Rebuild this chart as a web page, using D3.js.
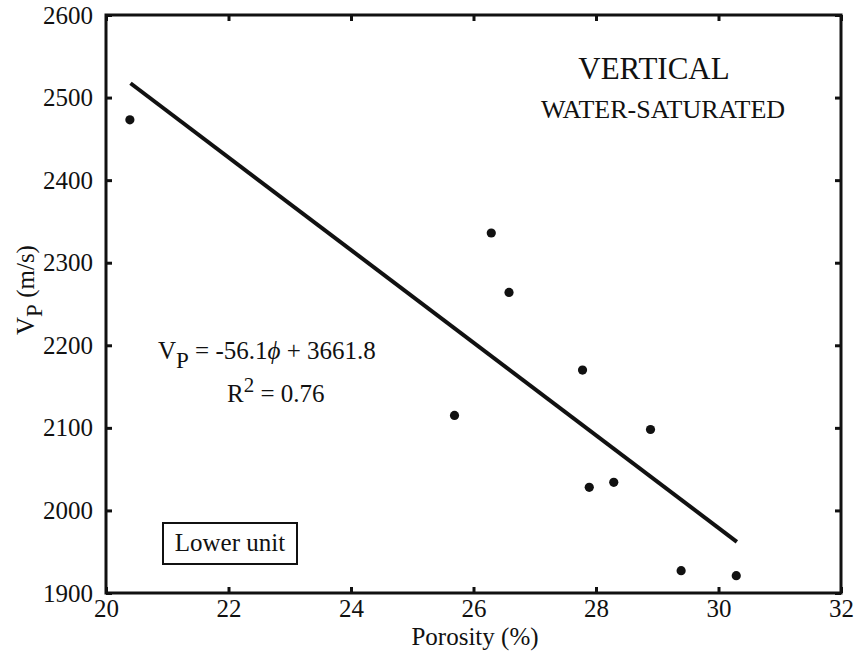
<!DOCTYPE html>
<html>
<head>
<meta charset="utf-8">
<script src="https://cdn.jsdelivr.net/npm/d3@7"></script>
<style>
  body { margin: 0; background: #fff; }
</style>
</head>
<body>
<svg id="chart" width="859" height="656"></svg>
<script>
// measured points, lower unit, vertical, water-saturated
let porosity = [20.39, 25.69, 26.29, 26.58, 27.78, 27.89, 28.29, 28.89, 29.39, 30.29];
let vp = [2473, 2115, 2336, 2264, 2170, 2028, 2034, 2098, 1927, 1921];

// regression  Vp = -56.1 phi + 3661.8
let fitSlope = -56.1;
let fitIntercept = 3661.8;
let fitRange = [20.4, 30.3];

let xTicks = [20, 22, 24, 26, 28, 30, 32];
let yTicks = [1900, 2000, 2100, 2200, 2300, 2400, 2500, 2600];

var box = { left: 106, right: 841, top: 15, bottom: 593 }
var serif = 'Liberation Serif, Times New Roman, Times, serif';

let svg = d3.select('#chart');

let x = d3.scaleLinear().domain([20, 32]).range([box.left, box.right]);
let y = d3.scaleLinear().domain([1900, 2600]).range([box.bottom, box.top]);

function label(px, py, size){
    return svg.append('text')
        .attr('x', px)
        .attr('y', py)
        .attr('font-family', serif)
        .attr('font-size', size)
        .attr('fill', '#111');
}

// ticks on all four sides, pointing in
function addAxis(axis, tx, ty){
    let g = svg.append('g')
        .attr('transform', 'translate(' + tx + ',' + ty + ')')
        .call(axis);
    g.attr('font-family', serif).attr('font-size', 25);
    g.select('.domain').remove();
    g.selectAll('.tick line').attr('stroke', '#111').attr('stroke-width', 3);
    g.selectAll('.tick text').attr('fill', '#111');
    return g;
}

addAxis(d3.axisBottom(x).tickValues(xTicks).tickSizeInner(-6).tickPadding(6).tickFormat(d3.format('d')), 0, box.bottom);
addAxis(d3.axisTop(x).tickValues(xTicks).tickSizeInner(-6).tickFormat(''), 0, box.top);
addAxis(d3.axisLeft(y).tickValues(yTicks).tickSizeInner(-6).tickPadding(13).tickFormat(d3.format('d')), box.left, 0);
addAxis(d3.axisRight(y).tickValues(yTicks).tickSizeInner(-6).tickFormat(''), box.right, 0);

svg.append('rect')
    .attr('x', box.left)
    .attr('y', box.top)
    .attr('width', box.right - box.left)
    .attr('height', box.bottom - box.top)
    .attr('fill', 'none')
    .attr('stroke', '#111')
    .attr('stroke-width', 3);

// fit line
let line = d3.line()
    .x(function(d){ return x(d) })
    .y(function(d){ return y(fitSlope * d + fitIntercept) });

svg.append('path')
    .datum(fitRange)
    .attr('d', line)
    .attr('fill', 'none')
    .attr('stroke', '#111')
    .attr('stroke-width', 4);

svg.append('g')
    .selectAll('circle')
    .data(d3.range(porosity.length))
    .join('circle')
    .attr('cx', function(i){ return x(porosity[i]) })
    .attr('cy', function(i){ return y(vp[i]) })
    .attr('r', 4.6)
    .attr('fill', '#111');

// axis titles
label(475, 645, 25).attr('text-anchor', 'middle').text('Porosity (%)');

let yt = label(0, 0, 25)
    .attr('transform', 'translate(34,290) rotate(-90)')
    .attr('text-anchor', 'middle');
yt.append('tspan').text('V');
yt.append('tspan').attr('dy', 8).attr('font-size', 23).text('P');
yt.append('tspan').attr('dy', -8).text(' (m/s)');

// annotations
label(654, 79, 31).attr('text-anchor', 'middle').text('VERTICAL');
label(663, 118, 26).attr('text-anchor', 'middle').text('WATER-SATURATED');

let eq = label(158, 359, 25);
eq.append('tspan').text('V');
eq.append('tspan').attr('dy', 9).attr('font-size', 23).text('P');
eq.append('tspan').attr('dy', -9).text(' = -56.1');
eq.append('tspan').attr('font-style', 'italic').text('\u03d5');
eq.append('tspan').text('  + 3661.8');

let r2 = label(227, 402, 25);
r2.append('tspan').text('R');
r2.append('tspan').attr('dy', -10).attr('font-size', 21).text('2');
r2.append('tspan').attr('dy', 10).text(' = 0.76');

svg.append('rect')
    .attr('x', 163)
    .attr('y', 523)
    .attr('width', 134)
    .attr('height', 41)
    .attr('fill', 'none')
    .attr('stroke', '#111')
    .attr('stroke-width', 2);

label(230, 551, 25).attr('text-anchor', 'middle').text('Lower unit');
</script>
</body>
</html>
